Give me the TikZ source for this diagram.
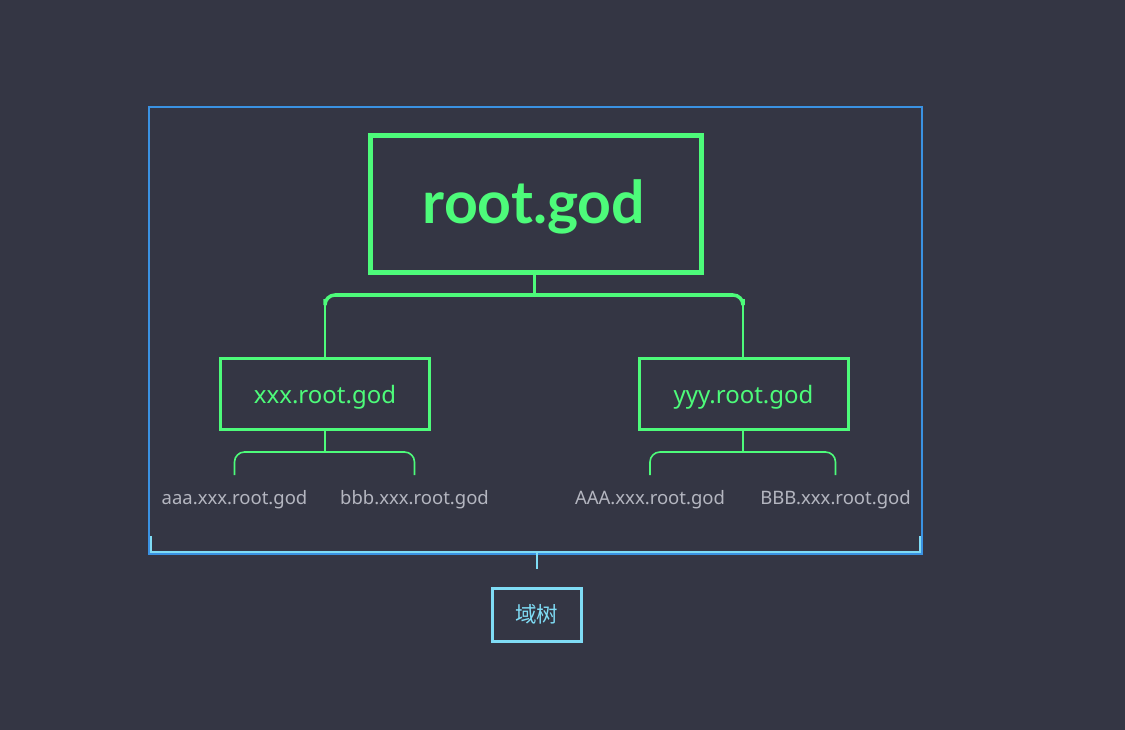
\documentclass[tikz,border=0pt]{standalone}
\usepackage{fontspec}
\setmainfont{Noto Sans}
\newfontfamily\cjk{Noto Sans CJK SC}
\newfontfamily\rootfont{Lato}
\definecolor{bg}{HTML}{343644}
\definecolor{grn}{HTML}{4DFB7A}
\definecolor{blu}{HTML}{3A92E2}
\definecolor{lblu}{HTML}{7FDCF5}
\definecolor{gry}{HTML}{B4B6C0}
\tikzset{
  rootbox/.style={draw=grn, line width=5pt, minimum width=331pt, minimum height=137pt, inner sep=0pt},
  midbox/.style={draw=grn, line width=3pt, minimum width=209pt, minimum height=71pt, inner sep=0pt},
  roottext/.style={anchor=base, inner sep=0pt, text=grn, font=\rootfont\bfseries\fontsize{59}{62}\selectfont},
  midtext/.style={anchor=base, inner sep=0pt, text=grn, font=\fontsize{24}{26}\selectfont},
  leaf/.style={anchor=base, text=gry, inner sep=0pt, font=\fontsize{18.5}{20}\selectfont},
  tagbox/.style={draw=lblu, line width=3pt, minimum width=89pt, minimum height=53pt, inner sep=0pt, text=lblu, font=\cjk\fontsize{21.5}{24}\selectfont},
  thin/.style={draw=grn, line width=1.6pt, rounded corners=10pt},
}
\begin{document}
\begin{tikzpicture}[x=1pt,y=-1pt]
\fill[bg] (0,0) rectangle (1125,730);
\useasboundingbox (0,0) rectangle (1125,730);
% outer frame
\node[draw=blu, line width=2.2pt, minimum width=773pt, minimum height=446pt, inner sep=0pt] (frame) at (535.5,330) {};
% bracket below frame
\draw[lblu, line width=2pt] (151,536) -- (151,552) -- (920,552) -- (920,536);
\draw[blu, line width=2.2pt] (frame.south west) -- (frame.south east);
\coordinate (brk) at (537,553);
% boxes
\node[rootbox] (root) at (536,204) {};
\node[midbox] (x) at (325,394) {};
\node[midbox] (y) at (743.5,394) {};
% texts
\node[roottext] (rootT) at (534,224) {root.god};
\node[midtext] (xT) at (325,403) {xxx.root.god};
\node[midtext] (yT) at (743.5,403) {yyy.root.god};
\node[leaf] (a1) at (234.5,504) {aaa.xxx.root.god};
\node[leaf] (a2) at (414.5,504) {bbb.xxx.root.god};
\node[leaf] (b1) at (650,504) {AAA.xxx.root.god};
\node[leaf] (b2) at (835.5,504) {BBB.xxx.root.god};
\node[tagbox] (tag) at (536.5,614.5) {域树};
% root connectors
\coordinate (rj) at (534,295);
\draw[grn, line width=3pt] (root.south -| rj) -- (rj);
\coordinate (xn) at (325,357);
\coordinate (yn) at (743,357);
\draw[thin] (xn) -- (xn |- rj) -- (yn |- rj) -- (yn);
\draw[grn, line width=3.5pt, rounded corners=10pt] ([yshift=-4pt]xn |- rj) -- (xn |- rj) -- (yn |- rj) -- ([yshift=-4pt]yn |- rj);
% left subtree
\coordinate (xj) at (325,452);
\draw[grn, line width=1.6pt] (x.south) -- (xj);
\draw[thin] (234.5,475) -- (234.5,452) -- (414.5,452) -- (414.5,475);
% right subtree
\coordinate (yj) at (743,452);
\draw[grn, line width=1.6pt] (y.south -| yj) -- (yj);
\draw[thin] (650,475) -- (650,452) -- (835.5,452) -- (835.5,475);
% tag connector
\draw[lblu, line width=2.5pt] (brk) -- (537,569);
\end{tikzpicture}
\end{document}
